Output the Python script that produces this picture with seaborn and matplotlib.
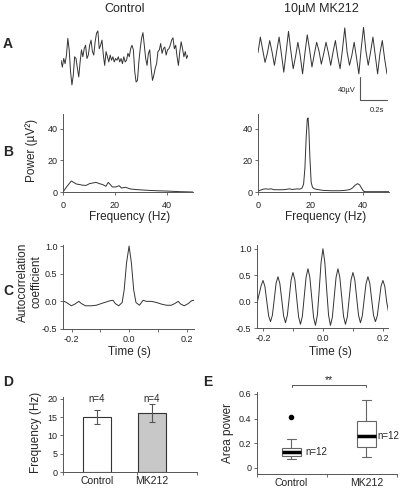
import matplotlib.pyplot as plt
import numpy as np
import pandas as pd
import seaborn as sns

# A: raw traces (µV), evenly sampled
trace_ctrl = [-3, -15, 0, -9, 6, 35, 15, -23, -46, -29, 3, 0, -17, -32, -6, 15, 3, 17, 23, 0,
              6, 23, 32, 12, 6, 29, 44, 48, 17, 23, 32, 6, -12, 12, 3, -6, 6, -3, 3, -6,
              0, -3, 3, -6, 0, -9, 3, -6, -3, 9, 3, 17, 23, 15, -23, -41, -38, -6, 17, 35,
              45, 23, 0, -12, 9, 15, -17, -38, -29, -17, -9, 12, 15, 26, 9, 17, 20, 6, 15, 17,
              23, 32, 36, 17, 23, 3, -12, 12, 29, 17, 3, 12, 0, 6]
trace_mk = [5, 32, 10, -12, 4, 26, 6, -17, 8, 32, 2, -29, 6, 42, 8, -23, -2, 23, 0, -32,
            4, 36, 10, -20, 2, 23, 8, -15, 3, 23, 5, -17, 6, 26, -2, -23, 10, 48, 6, -17,
            0, 23, -4, -32, 12, 49, 8, -17, 6, 32, 0, -32, 4, 26, -6, -32]

# B: power spectra
freq_ctrl = [0, 1.5, 3.2, 5.1, 6.4, 7.6, 8.9, 10.2, 11.4, 12.7, 14.0, 15.3, 16.5, 17.4, 18.2,
             19.0, 20.3, 21.6, 22.5, 24.0, 26.0, 28.5, 32.3, 36.0, 40.0, 45.0, 50.0]
power_ctrl = [0, 3.5, 7.0, 5.1, 4.7, 4.3, 4.2, 5.3, 5.7, 6.1, 5.3, 4.7, 3.6, 6.1, 4.7,
              3.2, 3.2, 4.0, 2.5, 3.0, 1.9, 1.5, 1.1, 0.8, 0.6, 0.2, 0.0]
freq_mk = [0, 1, 2, 3, 4, 5, 6, 8, 10, 12, 13, 14, 15, 16, 16.8, 17.4, 17.9, 18.4, 18.8, 19.1,
           19.4, 19.8, 20.3, 20.8, 21.5, 23, 25, 28, 31, 33, 35, 36, 37, 38, 38.8, 39.5, 40.3,
           41, 45, 50]
power_mk = [0.5, 1.2, 1.8, 2.0, 1.8, 2.0, 1.5, 1.4, 1.5, 2.0, 1.6, 1.8, 2.0, 1.8, 2.5, 5, 15,
            35, 46, 47, 40, 22, 6, 3, 2, 1.5, 1.0, 0.8, 0.8, 1.0, 1.5, 2.5, 4.2, 5.3, 4.5, 2.5,
            0.5, 0.2, 0.2, 0.2]

# C: autocorrelation
lag_ctrl = [-0.230, -0.218, -0.201, -0.189, -0.175, -0.166, -0.152, -0.131, -0.114, -0.097,
            -0.079, -0.067, -0.056, -0.048, -0.036, -0.024, -0.017, -0.009, 0.0, 0.008, 0.016,
            0.024, 0.036, 0.049, 0.060, 0.078, 0.095, 0.113, 0.130, 0.147, 0.159, 0.171,
            0.180, 0.192, 0.206, 0.217, 0.226]
acf_ctrl = [0.01, -0.02, -0.08, -0.05, 0.0, -0.04, -0.08, -0.08, -0.07, -0.04, -0.01, 0.01,
            0.02, -0.04, -0.08, -0.02, 0.21, 0.69, 1.0, 0.7, 0.21, -0.02, -0.07, 0.02, 0.0, 0.0,
            -0.02, -0.05, -0.07, -0.07, -0.04, 0.0, -0.05, -0.08, -0.04, 0.01, 0.02]
acf_mk = [-0.10, 0.00, 0.15, 0.30, 0.40, 0.29, 0.01, -0.27, -0.38, -0.26, 0.04, 0.35, 0.47,
          0.34, 0.04, -0.27, -0.40, -0.26, 0.07, 0.41, 0.55, 0.41, 0.06, -0.29, -0.43, -0.28,
          0.09, 0.46, 0.62, 0.46, 0.08, -0.30, -0.45, -0.26, 0.22, 0.74,
          1.00, 0.74, 0.22, -0.26, -0.45, -0.30, 0.08, 0.46, 0.62, 0.46, 0.09, -0.28, -0.43,
          -0.29, 0.06, 0.41, 0.55, 0.41, 0.07, -0.26, -0.40, -0.27, 0.04, 0.34, 0.47, 0.35,
          0.04, -0.26, -0.38, -0.27, 0.01, 0.29, 0.40, 0.29, 0.0, -0.20, -0.33]

# D: mean oscillation frequency
groups = ["Control", "MK212"]
freq_mean = [15.0, 16.2]
freq_err = [1.9, 2.4]
n_d = ["n=4", "n=4"]

# E: area power per slice
area_ctrl = [0.07, 0.09, 0.10, 0.10, 0.115, 0.12, 0.13, 0.145, 0.16, 0.16, 0.235, 0.41]
area_mk = [0.09, 0.14, 0.17, 0.17, 0.21, 0.24, 0.27, 0.33, 0.38, 0.38, 0.47, 0.555]

sns.set_theme(style="ticks")
plt.rcParams["font.family"] = ["Liberation Sans", "DejaVu Sans"]

W, H = 400, 491
LINE = "#333333"
AX = "#555555"
fig = plt.figure(figsize=(W / 100, H / 100), dpi=100)


def axes_px(x0, y0, x1, y1):
    return fig.add_axes([x0 / W, 1 - y1 / H, (x1 - x0) / W, (y1 - y0) / H])


def text_px(x, y, s, **kw):
    fig.text(x / W, 1 - y / H, s, **kw)


def style(ax):
    sns.despine(ax=ax)
    for s in ("left", "bottom"):
        ax.spines[s].set_color(AX)
        ax.spines[s].set_linewidth(0.7)
    ax.tick_params(which="both", direction="out", length=2.5, width=0.6, color=AX,
                   labelsize=6.5, pad=1.5, labelcolor="#222222")
    ax.set_xlabel("")
    ax.set_ylabel("")


# titles and panel letters
text_px(125, 9, "Control", ha="center", va="center", fontsize=9)
text_px(321, 9, "10µM MK212", ha="center", va="center", fontsize=9)
for s, x, y in [("A", 8, 44), ("B", 8, 152), ("C", 8, 291), ("D", 8, 382), ("E", 208, 382)]:
    text_px(x, y, s, ha="center", va="center", fontsize=10, fontweight="bold")

# A traces
ax = axes_px(61, 24, 188, 93)
t = np.linspace(0, 0.94, len(trace_ctrl))
sns.lineplot(x=t, y=trace_ctrl, ax=ax, color=LINE, linewidth=0.7)
ax.set_xlim(0, 0.94)
ax.set_ylim(-60, 60)
ax.axis("off")

ax = axes_px(258, 21, 387, 90)
t = np.linspace(0, 0.95, len(trace_mk))
sns.lineplot(x=t, y=trace_mk, ax=ax, color=LINE, linewidth=0.7)
ax.set_xlim(0, 0.95)
ax.set_ylim(-60, 60)
ax.axis("off")
ax.plot([0.751, 0.751, 0.95], [-38, -78, -78], color=AX, lw=0.8, clip_on=False)
text_px(356, 91, "40µV", ha="right", va="center", fontsize=5.5)
text_px(377, 111, "0.2s", ha="center", va="center", fontsize=5.5)

# B spectra
for (x0, x1), f, p in [((63, 193), freq_ctrl, power_ctrl), ((258, 389), freq_mk, power_mk)]:
    ax = axes_px(x0, 114, x1, 192)
    sns.lineplot(x=f, y=p, ax=ax, color=LINE, linewidth=0.7)
    style(ax)
    ax.set_xlim(0, 50)
    ax.set_ylim(0, 49.5)
    ax.set_xticks([0, 20, 40])
    ax.set_yticks([0, 20, 40])
    ax.tick_params(axis="x", pad=4)
    text_px((x0 + x1) / 2 + 2, 217, "Frequency (Hz)", ha="center", va="center", fontsize=8.5)
text_px(32, 150, "Power (µV²)", ha="center", va="center", rotation=90, fontsize=8.5)

# C autocorrelation
ax = axes_px(63, 245, 194, 329)
sns.lineplot(x=lag_ctrl, y=acf_ctrl, ax=ax, color=LINE, linewidth=0.7)
style(ax)
ax.set_xlim(-0.23, 0.226)
ax.set_ylim(-0.5, 1.02)

ax2 = axes_px(257, 245, 388, 328)
lag = np.linspace(-0.225, 0.225, len(acf_mk))
sns.lineplot(x=lag, y=acf_mk, ax=ax2, color=LINE, linewidth=0.7)
style(ax2)
ax2.set_xlim(-0.22, 0.217)
ax2.set_ylim(-0.5, 1.07)
for a in (ax, ax2):
    a.set_yticks([-0.5, 0.0, 0.5, 1.0])
    a.set_yticklabels(["-0.5", "0.0", "0.5", "1.0"])
    a.set_xticks([-0.2, -0.1, 0.0, 0.1, 0.2])
    a.set_xticklabels(["-0.2", "", "0.0", "", "0.2"])
text_px(129, 352, "Time (s)", ha="center", va="center", fontsize=8.5)
text_px(330, 352, "Time (s)", ha="center", va="center", fontsize=8.5)
text_px(23, 282, "Autocorrelation", ha="center", va="center", rotation=90, fontsize=8.5)
text_px(36, 282, "coefficient", ha="center", va="center", rotation=90, fontsize=8.5)

# D bar chart
ax = axes_px(63, 397, 197, 472)
sns.barplot(x=groups, y=freq_mean, hue=groups, palette=["white", "#c8c8c8"], width=0.5,
            edgecolor=LINE, linewidth=0.8, errorbar=None, legend=False, ax=ax)
ax.errorbar([0, 1], freq_mean, yerr=freq_err, fmt="none", ecolor=AX, elinewidth=0.8,
            capsize=2, capthick=0.8)
style(ax)
ax.set_xlim(-0.615, 1.82)
ax.set_ylim(0, 20.5)
ax.set_yticks([0, 5, 10, 15, 20])
ax.set_xticks([0, 1])
ax.set_xticklabels(groups, fontsize=7.5)
ax.set_xticks([-0.615, 0.73, 1.82], minor=True)
ax.tick_params(axis="x", which="major", length=0, pad=3)
for i, s in enumerate(n_d):
    ax.text(i, 20.0, s, ha="center", va="center", fontsize=7)
text_px(36, 432, "Frequency (Hz)", ha="center", va="center", rotation=90, fontsize=8.5)

# E box plot
df = pd.DataFrame({"group": ["Control"] * len(area_ctrl) + ["MK212"] * len(area_mk),
                   "area": area_ctrl + area_mk})
ax = axes_px(257, 392, 397, 474)
sns.boxplot(data=df, x="group", y="area", ax=ax, width=0.25, color="white", linecolor="#666666",
            linewidth=0.8, whis=1.5,
            medianprops=dict(color="black", linewidth=2.5),
            flierprops=dict(marker="o", markerfacecolor="black", markeredgecolor="black",
                            markersize=3))
style(ax)
ax.set_xlim(-0.46, 1.41)
ax.set_ylim(-0.05, 0.616)
ax.set_yticks([0, 0.2, 0.4, 0.6])
ax.set_yticklabels(["0", "0.2", "0.4", "0.6"])
ax.set_xticks([0, 1])
ax.set_xticklabels(groups, fontsize=7.5)
ax.set_xticks([-0.46, 0.47, 1.41], minor=True)
ax.tick_params(axis="x", which="major", length=0, pad=3)
ax.text(0.19, 0.125, "n=12", ha="left", va="center", fontsize=7)
ax.text(1.15, 0.255, "n=12", ha="left", va="center", fontsize=7)
ax.plot([0.01, 0.01, 0.99, 0.99], [0.655, 0.675, 0.675, 0.655], color=AX, lw=0.7, clip_on=False)
ax.text(0.5, 0.672, "**", ha="center", va="bottom", fontsize=7.5)
text_px(228, 433, "Area power", ha="center", va="center", rotation=90, fontsize=8.5)

fig.savefig("out.png", dpi=100)
